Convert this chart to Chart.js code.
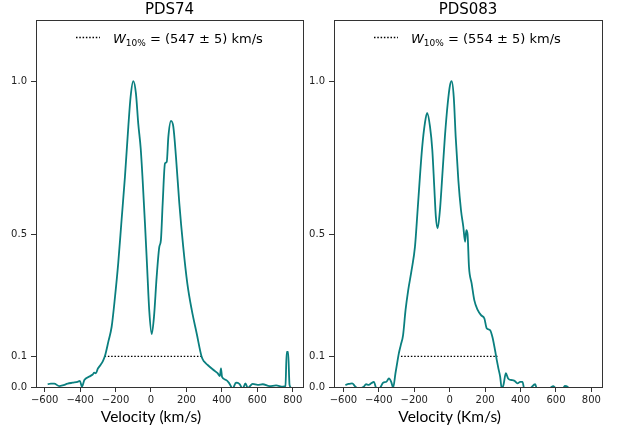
<!DOCTYPE html>
<html>
<head>
<meta charset="utf-8">
<script src="https://cdn.jsdelivr.net/npm/chart.js@4.4.1/dist/chart.umd.min.js"></script>
<style>
  html, body { margin: 0; padding: 0; background: #fff; }
  #wrap { position: relative; width: 617px; height: 431px; }
  #wrap canvas { position: absolute; left: 0; top: 0; }
</style>
</head>
<body>
<div id="wrap">
  <canvas id="left" width="617" height="431"></canvas>
  <canvas id="right" width="617" height="431"></canvas>
</div>
<script>
const titles = ["PDS74", "PDS083"]
const widthValues = ["547 ± 5", "554 ± 5"]
const xLabels = ["Velocity (km/s)", "Velocity (Km/s)"]
const xTicks = [-600, -400, -200, 0, 200, 400, 600, 800]
const yTicks = [0, 0.1, 0.5, 1.0]

// PDS74 profile
const pds74Velocity = [-583, -565, -546, -518, -499, -470, -442, -414, -401, -390, -376, -348, -329, -320, -311,
  -300, -285, -273, -260, -240, -222, -203, -185, -166, -147, -128, -115, -100, -85, -72, -58, -47, -34, -21, -10,
  4, 17, 32, 47, 56, 66, 79, 89, 98, 113, 126, 141, 160, 182, 205, 230, 258, 286, 300, 320, 348, 376, 389, 395, 401,
  424, 442, 461, 480, 499, 518, 533, 546, 574, 602, 631, 669, 706, 744, 759, 766, 774, 782, 797]
const pds74Flux = [0.009, 0.011, 0.011, 0.003, 0.005, 0.011, 0.014, 0.017, 0.020, 0.001, 0.023, 0.034, 0.041, 0.047, 0.045,
  0.060, 0.072, 0.083, 0.101, 0.150, 0.197, 0.295, 0.404, 0.546, 0.687, 0.851, 0.949, 1.000, 0.960, 0.862, 0.780, 0.676, 0.535, 0.382, 0.252,
  0.173, 0.230, 0.360, 0.458, 0.480, 0.600, 0.731, 0.736, 0.818, 0.870, 0.851, 0.753, 0.600, 0.458, 0.339, 0.252, 0.175, 0.099, 0.083, 0.072, 0.058, 0.045, 0.036, 0.061, 0.033,
  0.023, 0.012, -0.005, 0.014, 0.010, -0.005, 0.012, -0.003, 0.010, 0.007, 0.009, 0.003, 0.005, 0.001, 0.003, 0.115, 0.115, 0.007, -0.005]
const pds74Width = [-262, 285]

// PDS083 profile
const pds083Velocity = [-589, -570, -551, -532, -513, -485, -472, -457, -443, -428, -413, -394, -376, -357, -343, -330, -319,
  -306, -296, -287, -276, -263, -249, -234, -215, -196, -181, -168, -155, -140, -127, -111, -98, -87, -78, -68, -55, -42, -27, -11,
  2, 11, 23, 34, 49, 64, 77, 87, 94, 101, 109, 124, 139, 158, 177, 196, 209, 228, 241, 256, 266, 275, 285, 294, 304, 317, 330,
  345, 364, 383, 398, 411, 421, 450, 483, 492, 560, 586, 600, 640, 650, 665, 670]
const pds083Flux = [0.007, 0.010, 0.012, 0.001, -0.005, 0.001, 0.009, 0.007, 0.012, 0.017, -0.005, -0.003, 0.014, 0.017, 0.028, 0.017, -0.002,
  0.045, 0.080, 0.110, 0.137, 0.170, 0.252, 0.317, 0.382, 0.458, 0.578, 0.687, 0.785, 0.862, 0.896, 0.851, 0.775, 0.655, 0.557, 0.519, 0.578, 0.687, 0.818, 0.927,
  0.987, 1.000, 0.949, 0.818, 0.676, 0.578, 0.524, 0.475, 0.513, 0.500, 0.393, 0.339, 0.284, 0.252, 0.235, 0.224, 0.192, 0.186, 0.164, 0.121, 0.088, 0.061, 0.034, -0.005, 0.007, 0.045, 0.028,
  0.023, 0.021, 0.012, 0.017, 0.017, -0.005, -0.005, 0.009, -0.005, -0.005, 0.003, -0.005, -0.005, 0.004, 0.001, -0.003]
const pds083Width = [-275, 270]

const TEAL = "#0a7f7f"
const INK = "#333"
const tickFont = { family: "DejaVu Sans", size: 10 }

const panelText = {
  id: "panelText",
  afterDraw(chart, args, opts) {
    const { ctx, chartArea: a, scales } = chart
    ctx.save()
    // frame
    ctx.strokeStyle = INK
    ctx.lineWidth = 1
    ctx.strokeRect(Math.round(a.left) + 0.5, Math.round(a.top) + 0.5, Math.round(a.right - a.left), Math.round(a.bottom - a.top))
    // title
    ctx.fillStyle = "#000"
    ctx.font = '15px "DejaVu Sans"'
    ctx.textAlign = "center"
    ctx.textBaseline = "middle"
    ctx.fillText(opts.title, (a.left + a.right) / 2, 10)
    // legend
    const ly = a.top + 17.5
    ctx.setLineDash([1.5, 1.8])
    ctx.lineWidth = 1.4
    ctx.strokeStyle = "#000"
    ctx.beginPath()
    ctx.moveTo(a.left + 40, ly)
    ctx.lineTo(a.left + 64, ly)
    ctx.stroke()
    ctx.setLineDash([])
    ctx.textAlign = "left"
    ctx.textBaseline = "alphabetic"
    let x = a.left + 77
    const base = a.top + 22.5
    ctx.font = 'italic 13px "DejaVu Sans"'
    ctx.fillText("W", x, base)
    x += ctx.measureText("W").width
    ctx.font = '9px "DejaVu Sans"'
    ctx.fillText("10%", x, base + 3)
    x += ctx.measureText("10%").width
    ctx.font = '13px "DejaVu Sans"'
    ctx.fillText(" = (" + opts.width + ") km/s", x, base)
    // x label, centred on zero velocity
    ctx.font = '15.5px Lato'
    ctx.textAlign = "center"
    ctx.textBaseline = "middle"
    ctx.fillText(opts.xLabel, scales.x.getPixelForValue(0), 417)
    ctx.restore()
  }
}

function makePanel(id, idx, vel, flux, width, pad, xRange) {
  const profile = vel.map((v, i) => ({ x: v, y: flux[i] }))
  const tenPercent = width.map(v => ({ x: v, y: 0.1 }))
  return new Chart(document.getElementById(id), {
    type: "line",
    data: {
      datasets: [{
        data: profile,
        borderColor: TEAL,
        borderWidth: 1.8,
        pointRadius: 0,
        cubicInterpolationMode: "monotone",
        fill: false
      }, {
        data: tenPercent,
        borderColor: "#000",
        borderWidth: 1.4,
        borderDash: [1.5, 1.8],
        pointRadius: 0,
        fill: false
      }]
    },
    options: {
      responsive: false,
      animation: false,
      events: [],
      layout: { padding: pad },
      plugins: {
        legend: { display: false },
        tooltip: { enabled: false },
        panelText: { title: titles[idx], width: widthValues[idx], xLabel: xLabels[idx] }
      },
      scales: {
        x: {
          type: "linear",
          min: xRange[0],
          max: xRange[1],
          afterFit: s => { s.height = 44 },
          afterBuildTicks: s => { s.ticks = xTicks.map(v => ({ value: v })) },
          grid: { drawOnChartArea: false, tickLength: 5, color: INK },
          border: { display: false },
          ticks: {
            font: tickFont,
            color: "#222",
            padding: 2,
            maxRotation: 0,
            callback: v => (v < 0 ? "\u2212" + Math.abs(v) : String(v))
          }
        },
        y: {
          min: 0,
          max: 1.2,
          afterFit: s => { s.width = 36 },
          afterBuildTicks: s => { s.ticks = yTicks.map(v => ({ value: v })) },
          grid: { drawOnChartArea: false, tickLength: 5, color: INK },
          border: { display: false },
          ticks: {
            font: tickFont,
            color: "#222",
            padding: 4,
            callback: v => v.toFixed(1)
          }
        }
      }
    },
    plugins: [panelText]
  })
}

makePanel("left", 0, pds74Velocity, pds74Flux, pds74Width, { left: 0, right: 314, top: 20, bottom: 0 }, [-649, 858])
makePanel("right", 1, pds083Velocity, pds083Flux, pds083Width, { left: 298, right: 15, top: 20, bottom: 0 }, [-653, 860])
</script>
</body>
</html>
